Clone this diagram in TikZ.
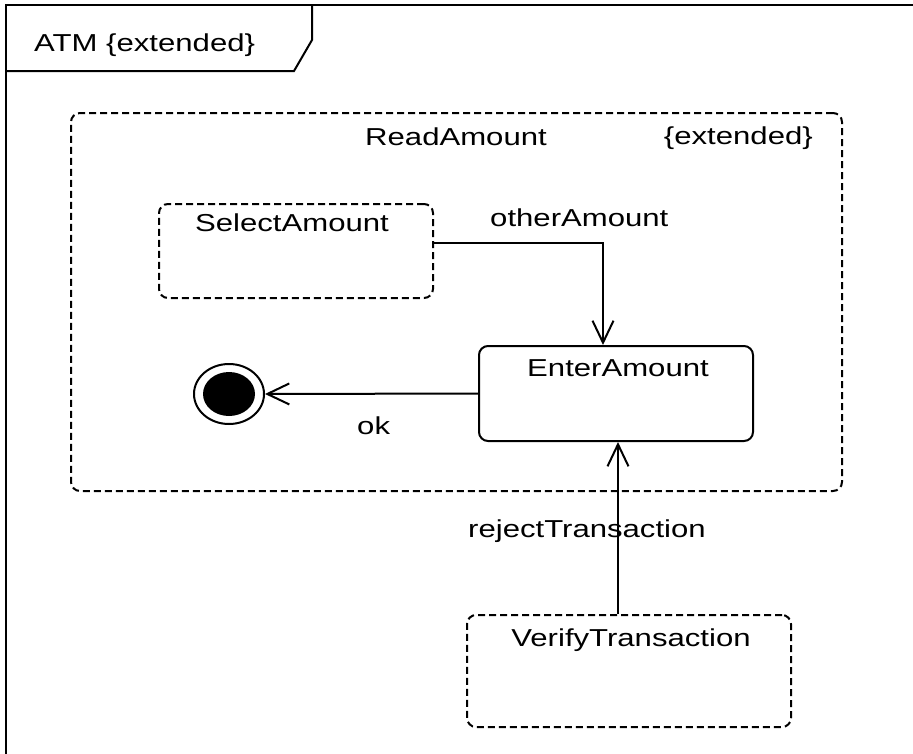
\documentclass[tikz,border=0pt]{standalone}
\usepackage{fontspec}
\setmainfont{Liberation Sans}[FakeStretch=1.27]
\usetikzlibrary{arrows.meta,shapes.geometric}

\tikzset{
  umlstate/.style={draw=black, line width=2pt, rounded corners=9pt, inner sep=0pt},
  umlloose/.style={umlstate, dash pattern=on 7pt off 4pt},
  umltrans/.style={black, line width=2pt, -{Straight Barb[length=22pt, width=21pt]}},
  umltext/.style={inner sep=0pt, font=\fontsize{24.5}{29}\selectfont},
}

\begin{document}
\begin{tikzpicture}[x=1pt, y=-1pt]
	\useasboundingbox (0,0) rectangle (913,753);
	\clip (0,0) rectangle (913,753);

	% diagram frame and its tab
	\draw[black, line width=2pt] (6,800) -- (6,5) -- (960,5);
	\draw[black, line width=2pt] (6,71) -- (294,71) -- (312,40) -- (312,5);
	\node[umltext, anchor=base west] (atmname) at (34,51) {ATM \{extended\}};

	% states
	\node[umlloose, minimum width=771pt, minimum height=378pt] (read) at (456.5,302) {};
	\node[umltext, anchor=base] (readname) at (456,145) {ReadAmount};
	\node[umltext, anchor=base east] (readext) at (813,144) {\{extended\}};

	\node[umlloose, minimum width=274pt, minimum height=94pt] (select) at (296,251) {};
	\node[umltext, anchor=base] (selectname) at (292,231) {SelectAmount};

	\node[umlstate, minimum width=274pt, minimum height=95pt] (enter) at (616,393.5) {};
	\node[umltext, anchor=base] (entername) at (618,376) {EnterAmount};

	\node[umlloose, minimum width=324pt, minimum height=112pt] (verify) at (629,671) {};
	\node[umltext, anchor=base] (verifyname) at (631,646) {VerifyTransaction};

	% final state
	\node[draw=black, line width=2pt, ellipse, minimum width=70pt, minimum height=60pt, inner sep=0pt] (final) at (229,394) {};
	\node[fill=black, ellipse, minimum width=52pt, minimum height=44pt, inner sep=0pt] (finaldot) at (final.center) {};

	% transitions
	\draw[umltrans] ([yshift=8pt]select.east) -| ([xshift=-13pt]enter.north);
	\node[umltext, anchor=base west] (otherlabel) at (490,226) {otherAmount};

	\draw[umltrans] (enter.west) -- (final.east);
	\node[umltext, anchor=base west] (oklabel) at (357,434) {ok};

	\draw[umltrans] ([xshift=-11pt]verify.north) -- ([xshift=-11pt]verify.north |- enter.south);
	\node[umltext, anchor=base west] (rejectlabel) at (468,537) {rejectTransaction};
\end{tikzpicture}
\end{document}
